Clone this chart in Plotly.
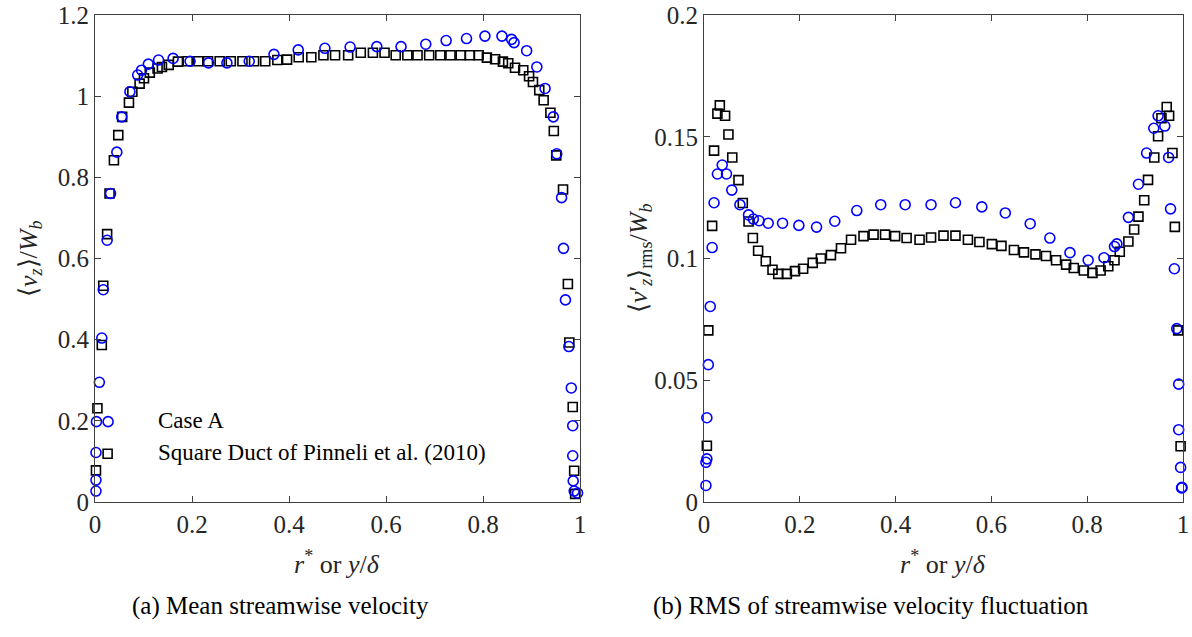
import plotly.graph_objects as go

# ---------------- data: (a) mean streamwise velocity ----------------
a_caseA_x = [0.002, 0.005, 0.014, 0.017, 0.026, 0.025, 0.030, 0.039, 0.048, 0.056, 0.070, 0.077,
             0.092, 0.101, 0.113, 0.129, 0.138, 0.152, 0.171, 0.191, 0.213, 0.233, 0.257, 0.280,
             0.304, 0.328, 0.351, 0.376, 0.396, 0.420, 0.446, 0.471, 0.495, 0.522, 0.548, 0.573,
             0.597, 0.620, 0.644, 0.665, 0.689, 0.712, 0.733, 0.754, 0.773, 0.791, 0.808, 0.825,
             0.841, 0.852, 0.866, 0.883, 0.895, 0.903, 0.916, 0.925, 0.939, 0.946, 0.951, 0.965,
             0.975, 0.978, 0.985, 0.988, 0.990]
a_caseA_y = [0.078, 0.231, 0.387, 0.533, 0.119, 0.660, 0.760, 0.842, 0.904, 0.949, 0.984, 1.011,
             1.031, 1.044, 1.058, 1.068, 1.072, 1.077, 1.085, 1.086, 1.086, 1.086, 1.086, 1.086,
             1.086, 1.086, 1.086, 1.089, 1.090, 1.096, 1.096, 1.101, 1.101, 1.101, 1.107, 1.107,
             1.107, 1.101, 1.101, 1.101, 1.101, 1.101, 1.101, 1.101, 1.101, 1.101, 1.095, 1.091,
             1.085, 1.081, 1.070, 1.064, 1.049, 1.035, 1.015, 0.990, 0.959, 0.914, 0.854, 0.770,
             0.537, 0.393, 0.234, 0.077, 0.020]

a_pinn_x = [0.002, 0.002, 0.002, 0.003, 0.027, 0.009, 0.014, 0.017, 0.025, 0.032, 0.045, 0.055,
            0.072, 0.088, 0.096, 0.110, 0.131, 0.161, 0.196, 0.234, 0.272, 0.318, 0.369, 0.419,
            0.474, 0.526, 0.581, 0.631, 0.682, 0.724, 0.766, 0.804, 0.839, 0.859, 0.864, 0.890,
            0.911, 0.928, 0.945, 0.952, 0.962, 0.966, 0.970, 0.977, 0.982, 0.985, 0.985, 0.986,
            0.988, 0.995]
a_pinn_y = [0.027, 0.054, 0.122, 0.198, 0.198, 0.295, 0.404, 0.523, 0.645, 0.760, 0.862, 0.949,
            1.011, 1.052, 1.064, 1.079, 1.089, 1.093, 1.086, 1.082, 1.082, 1.086, 1.103, 1.114,
            1.118, 1.121, 1.122, 1.122, 1.128, 1.137, 1.142, 1.148, 1.148, 1.140, 1.132, 1.112,
            1.072, 1.019, 0.949, 0.858, 0.750, 0.625, 0.498, 0.383, 0.281, 0.188, 0.114, 0.052,
            0.027, 0.022]

# ---------------- data: (b) RMS of streamwise velocity fluctuation ----------------
b_caseA_x = [0.006, 0.009, 0.017, 0.021, 0.028, 0.033, 0.044, 0.051, 0.059, 0.072, 0.081, 0.093,
             0.102, 0.113, 0.129, 0.143, 0.155, 0.173, 0.190, 0.207, 0.227, 0.244, 0.265, 0.286,
             0.307, 0.333, 0.354, 0.378, 0.399, 0.423, 0.450, 0.474, 0.500, 0.525, 0.551, 0.575,
             0.601, 0.621, 0.647, 0.668, 0.692, 0.714, 0.735, 0.756, 0.772, 0.793, 0.811, 0.828,
             0.844, 0.857, 0.868, 0.886, 0.898, 0.907, 0.919, 0.927, 0.940, 0.948, 0.955, 0.966,
             0.971, 0.978, 0.983, 0.990, 0.995]
b_caseA_y = [0.0231, 0.0705, 0.1134, 0.1443, 0.1595, 0.1629, 0.1586, 0.1509, 0.1415, 0.1322, 0.1228, 0.1152,
             0.1084, 0.1032, 0.0989, 0.0954, 0.0937, 0.0937, 0.0948, 0.0958, 0.0982, 0.1000, 0.1014, 0.1042,
             0.1077, 0.1092, 0.1098, 0.1098, 0.1092, 0.1084, 0.1077, 0.1086, 0.1094, 0.1094, 0.1077, 0.1068,
             0.1059, 0.1052, 0.1035, 0.1025, 0.1017, 0.1010, 0.0993, 0.0975, 0.0961, 0.0951, 0.0941, 0.0951,
             0.0968, 0.0993, 0.1028, 0.1070, 0.1119, 0.1172, 0.1239, 0.1323, 0.1415, 0.1502, 0.1576, 0.1622,
             0.1586, 0.1433, 0.1130, 0.0705, 0.0229]

b_pinn_x = [0.004, 0.004, 0.006, 0.006, 0.009, 0.013, 0.017, 0.021, 0.028, 0.038, 0.047, 0.058,
            0.075, 0.093, 0.103, 0.115, 0.134, 0.164, 0.198, 0.235, 0.273, 0.319, 0.369, 0.420,
            0.474, 0.525, 0.580, 0.629, 0.681, 0.722, 0.764, 0.802, 0.835, 0.857, 0.862, 0.886,
            0.907, 0.924, 0.939, 0.948, 0.962, 0.970, 0.974, 0.982, 0.987, 0.991, 0.991, 0.995,
            0.997, 0.998]
b_pinn_y = [0.0068, 0.0163, 0.0177, 0.0346, 0.0564, 0.0803, 0.1045, 0.1229, 0.1347, 0.1384, 0.1347, 0.1281,
            0.1221, 0.1179, 0.1162, 0.1155, 0.1145, 0.1145, 0.1136, 0.1129, 0.1153, 0.1197, 0.1221, 0.1221,
            0.1221, 0.1229, 0.1212, 0.1187, 0.1143, 0.1084, 0.1024, 0.0993, 0.1003, 0.1049, 0.1060, 0.1169,
            0.1305, 0.1433, 0.1535, 0.1586, 0.1544, 0.1415, 0.1204, 0.0958, 0.0712, 0.0484, 0.0297, 0.0142,
            0.0058, 0.0060]

a_yticks = [0, 0.2, 0.4, 0.6, 0.8, 1, 1.2]
a_yticktext = ["0", "0.2", "0.4", "0.6", "0.8", "1", "1.2"]
b_yticks = [0, 0.05, 0.1, 0.15, 0.2]
b_yticktext = ["0", "0.05", "0.1", "0.15", "0.2"]
xticks = [0, 0.2, 0.4, 0.6, 0.8, 1]
xticktext = ["0", "0.2", "0.4", "0.6", "0.8", "1"]

legend_labels = ["Case A", "Square Duct of Pinneli et al. (2010)"]

# ---------------- figure ----------------
W, H = 1192, 637
def px(x):
    return x / W
def py(y):
    return 1 - y / H

SERIF = "Liberation Serif, Times New Roman, serif"
TXT = "#262626"

sq = dict(symbol="square-open", size=9, color="black", line=dict(width=1.6, color="black"))
ci = dict(symbol="circle-open", size=10, color="#0000ff", line=dict(width=1.6, color="#0000ff"))

fig = go.Figure()
fig.add_trace(go.Scatter(x=a_caseA_x, y=a_caseA_y, mode="markers", marker=sq,
                         name=legend_labels[0], xaxis="x", yaxis="y", showlegend=False, cliponaxis=False))
fig.add_trace(go.Scatter(x=a_pinn_x, y=a_pinn_y, mode="markers", marker=ci,
                         name=legend_labels[1], xaxis="x", yaxis="y", showlegend=False, cliponaxis=False))
fig.add_trace(go.Scatter(x=b_caseA_x, y=b_caseA_y, mode="markers", marker=sq,
                         name=legend_labels[0], xaxis="x2", yaxis="y2", showlegend=False, cliponaxis=False))
fig.add_trace(go.Scatter(x=b_pinn_x, y=b_pinn_y, mode="markers", marker=ci,
                         name=legend_labels[1], xaxis="x2", yaxis="y2", showlegend=False, cliponaxis=False))

top, bottom = 15, 502
axis_common = dict(showline=True, linecolor="#404040", linewidth=1, mirror="allticks",
                   ticks="inside", ticklen=6, tickcolor="#404040", showgrid=False, zeroline=False,
                   automargin=False,
                   tickfont=dict(family=SERIF, size=25, color=TXT))

fig.update_layout(
    template="none",
    width=W, height=H, margin=dict(l=0, r=0, t=0, b=0, autoexpand=False),
    paper_bgcolor="white", plot_bgcolor="white", showlegend=False,
    xaxis=dict(domain=[px(95), px(580)], range=[0, 1], tickvals=xticks, ticktext=xticktext,
               anchor="y", **axis_common),
    yaxis=dict(domain=[py(bottom), py(top)], range=[0, 1.2], tickvals=a_yticks, ticktext=a_yticktext,
               anchor="x", **axis_common),
    xaxis2=dict(domain=[px(704), px(1183)], range=[0, 1], tickvals=xticks, ticktext=xticktext,
                anchor="y2", **axis_common),
    yaxis2=dict(domain=[py(bottom), py(top)], range=[0, 0.2], tickvals=b_yticks, ticktext=b_yticktext,
                anchor="x2", **axis_common),
)

ann = []
xt = "<i>r</i><sup>*</sup> or <i>y</i>/<i>δ</i>"
ann.append(dict(text=xt, x=px(337), y=py(562), xref="paper", yref="paper", showarrow=False,
                font=dict(family=SERIF, size=26, color=TXT), xanchor="center", yanchor="middle"))
ann.append(dict(text=xt, x=px(943), y=py(562), xref="paper", yref="paper", showarrow=False,
                font=dict(family=SERIF, size=26, color=TXT), xanchor="center", yanchor="middle"))
ann.append(dict(text="⟨<i>v<sub>z</sub></i>⟩/<i>W<sub>b</sub></i>", x=px(30), y=py(258),
                xref="paper", yref="paper", showarrow=False, textangle=-90,
                font=dict(family=SERIF, size=26, color=TXT), xanchor="center", yanchor="middle"))
ann.append(dict(text="⟨<i>v</i>′<sub><i>z</i></sub>⟩<sub>rms</sub>/<i>W<sub>b</sub></i>", x=px(640), y=py(258),
                xref="paper", yref="paper", showarrow=False, textangle=-90,
                font=dict(family=SERIF, size=26, color=TXT), xanchor="center", yanchor="middle"))
# legend (text only, as in the reference)
ann.append(dict(text=legend_labels[0], x=px(156), y=py(420), xref="paper", yref="paper", showarrow=False,
                font=dict(family=SERIF, size=23, color="black"), xanchor="left", yanchor="middle"))
ann.append(dict(text=legend_labels[1], x=px(156), y=py(452), xref="paper", yref="paper", showarrow=False,
                font=dict(family=SERIF, size=23, color="black"), xanchor="left", yanchor="middle"))
# captions
ann.append(dict(text="(a) Mean streamwise velocity", x=px(130), y=py(606), xref="paper", yref="paper",
                showarrow=False, font=dict(family=SERIF, size=25, color="black"), xanchor="left", yanchor="middle"))
ann.append(dict(text="(b) RMS of streamwise velocity fluctuation", x=px(651), y=py(606), xref="paper",
                yref="paper", showarrow=False, font=dict(family=SERIF, size=25, color="black"),
                xanchor="left", yanchor="middle"))
fig.update_layout(annotations=ann)

fig.write_html("out.html", config={"displayModeBar": False, "staticPlot": True},
               post_script="document.body.style.margin='0px';document.body.style.overflow='hidden';")
